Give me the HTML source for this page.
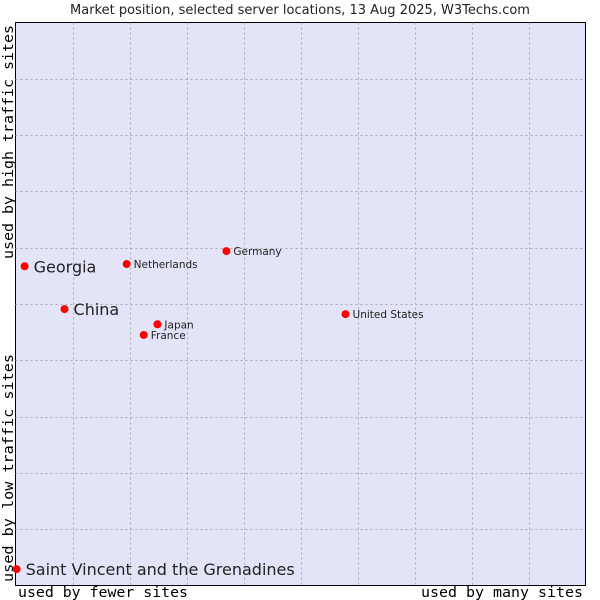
<!DOCTYPE html>
<html><head><meta charset="utf-8"><style>
body{margin:0;background:#fff;width:600px;height:600px;overflow:hidden}
svg{display:block}
</style></head><body>
<svg id="chart" width="600" height="600" xmlns="http://www.w3.org/2000/svg">
<text x="300" y="14" text-anchor="middle" font-family="DejaVu Sans, Liberation Sans, sans-serif" font-size="13" fill="#222">Market position, selected server locations, 13 Aug 2025, W3Techs.com</text>
<rect x="15.5" y="22.5" width="570" height="563" fill="#e3e4f7" stroke="#000" stroke-width="1"/>
<g id="grid"></g>
<g id="points"></g>
<text x="18" y="597" textLength="170" lengthAdjust="spacingAndGlyphs" font-family="DejaVu Sans Mono, Liberation Mono, monospace" font-size="14" fill="#000">used by fewer sites</text>
<text x="583" y="597" text-anchor="end" textLength="162" lengthAdjust="spacingAndGlyphs" font-family="DejaVu Sans Mono, Liberation Mono, monospace" font-size="14" fill="#000">used by many sites</text>
<text transform="translate(13,259) rotate(-90)" textLength="234" lengthAdjust="spacingAndGlyphs" font-family="DejaVu Sans Mono, Liberation Mono, monospace" font-size="14" fill="#000">used by high traffic sites</text>
<text transform="translate(13,582) rotate(-90)" textLength="228" lengthAdjust="spacingAndGlyphs" font-family="DejaVu Sans Mono, Liberation Mono, monospace" font-size="14" fill="#000">used by low traffic sites</text>
</svg>
<script>
const names = ["Georgia","Netherlands","Germany","China","Japan","France","United States","Saint Vincent and the Grenadines"];
const xValues = [1.6,19.5,37.0,8.6,24.9,22.5,57.9,0.2];
const yValues = [56.7,57.1,59.4,49.1,46.4,44.5,48.2,2.9];
const bigLabel = [true,false,false,true,false,false,false,true];
const gridTicks = [10,20,30,40,50,60,70,80,90];

const L=15.5,R=585.5,T=22.5,B=585.5;
const sx=v=>L+(R-L)*v/100;
const sy=v=>B-(B-T)*v/100;
const NS="http://www.w3.org/2000/svg";
const grid=document.getElementById('grid');
gridTicks.forEach((t,i)=>{
  const v=document.createElementNS(NS,'line');
  
  
  v.setAttribute('x1',Math.round(sx(t))+0.5);v.setAttribute('x2',Math.round(sx(t))+0.5);
  v.setAttribute('y1',T);v.setAttribute('y2',B);
  v.setAttribute('stroke','#aaa');v.setAttribute('stroke-dasharray','2,3');
  grid.appendChild(v);
  const h=document.createElementNS(NS,'line');
  
  
  h.setAttribute('y1',Math.round(sy(t))+0.5);h.setAttribute('y2',Math.round(sy(t))+0.5);
  h.setAttribute('x1',L);h.setAttribute('x2',R);
  h.setAttribute('stroke','#aaa');h.setAttribute('stroke-dasharray','2,3');
  grid.appendChild(h);
});
const pts=document.getElementById('points');
names.forEach((n,i)=>{
  const x=sx(xValues[i]),y=sy(yValues[i]);
  const c=document.createElementNS(NS,'circle');
  
  
  c.setAttribute('cx',x);c.setAttribute('cy',y);c.setAttribute('r',4);c.setAttribute('fill','#f00');
  pts.appendChild(c);
  const t=document.createElementNS(NS,'text');
  
  
  const big=bigLabel[i];
  t.setAttribute('x',x+(big?9:7));t.setAttribute('y',y+(big?6:4));
  t.setAttribute('font-family','DejaVu Sans, Liberation Sans, sans-serif');
  t.setAttribute('font-size',big?16:10.5);t.setAttribute('fill','#222');
  t.textContent=n;
  pts.appendChild(t);
});
</script>
</body></html>
